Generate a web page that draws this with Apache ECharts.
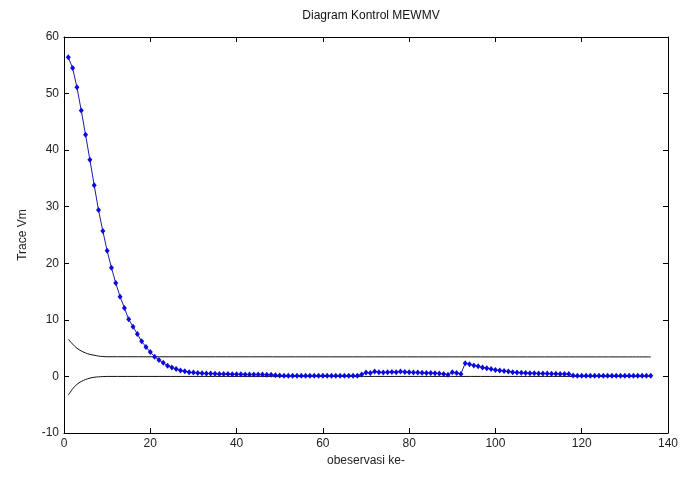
<!DOCTYPE html>
<html>
<head>
<meta charset="utf-8">
<script src="https://cdn.jsdelivr.net/npm/echarts@6/dist/echarts.min.js"></script>
<style>
  html, body { margin: 0; padding: 0; background: #fff; }
  #chart { width: 685px; height: 479px; }
</style>
</head>
<body>
<div id="chart"></div>
<script>
// Trace of the MEWMV statistic for each observation (obs 1..136)
const traceVm = [
  56.4, 54.5, 51.1, 47.0, 42.7, 38.3, 33.8, 29.4, 25.7, 22.2,
  19.2, 16.5, 14.1, 12.1, 10.1, 8.8, 7.5, 6.2, 5.2, 4.3,
  3.5, 2.9, 2.4, 1.9, 1.6, 1.3, 1.07, 0.9, 0.75, 0.68,
  0.62, 0.57, 0.53, 0.5, 0.47, 0.45, 0.43, 0.41, 0.4, 0.38,
  0.37, 0.36, 0.35, 0.34, 0.33, 0.32, 0.3, 0.28, 0.2, 0.15,
  0.12, 0.11, 0.12, 0.1, 0.11, 0.12, 0.1, 0.11, 0.1, 0.12,
  0.11, 0.1, 0.12, 0.11, 0.1, 0.12, 0.11, 0.13, 0.35, 0.7,
  0.6, 0.85, 0.75, 0.7, 0.75, 0.8, 0.75, 0.85, 0.8, 0.75,
  0.7, 0.7, 0.65, 0.6, 0.6, 0.55, 0.5, 0.45, 0.3, 0.75,
  0.6, 0.45, 2.35, 2.15, 1.95, 1.8, 1.6, 1.45, 1.3, 1.15,
  1.05, 0.95, 0.85, 0.75, 0.7, 0.65, 0.6, 0.55, 0.55, 0.5,
  0.5, 0.5, 0.48, 0.47, 0.45, 0.45, 0.42, 0.15, 0.1, 0.11,
  0.1, 0.1, 0.11, 0.1, 0.1, 0.11, 0.1, 0.1, 0.11, 0.1,
  0.1, 0.11, 0.1, 0.1, 0.1, 0.1
];

// Control limits: they settle after the first observations and stay flat to obs 136
const limitObs = [1, 2, 3, 4, 5, 6, 7, 8, 9, 10, 136];
const uclVals  = [6.6, 5.7, 5.0, 4.5, 4.15, 3.9, 3.75, 3.6, 3.52, 3.48, 3.45];
const lclVals  = [-3.3, -2.2, -1.4, -0.9, -0.55, -0.3, -0.15, -0.07, -0.03, 0, 0];

const xTicks = [0, 20, 40, 60, 80, 100, 120, 140];
const yTicks = [-10, 0, 10, 20, 30, 40, 50, 60];

const traceData = traceVm.map((v, i) => [i + 1, v]);
const uclData = limitObs.map((x, i) => [x, uclVals[i]]);
const lclData = limitObs.map((x, i) => [x, lclVals[i]]);

const font = 'Liberation Sans, Arial, sans-serif';
const axisLine = { show: true, onZero: false, lineStyle: { color: '#000', width: 1 } };
const tick = { show: true, inside: true, length: 5, lineStyle: { color: '#000' } };

const chart = echarts.init(document.getElementById('chart'));
chart.setOption({
  animation: false,
  backgroundColor: '#fff',
  title: {
    text: 'Diagram Kontrol MEWMV',
    left: 366, top: 5, textAlign: 'center',
    textStyle: { fontFamily: font, fontSize: 12, fontWeight: 'normal', color: '#111' }
  },
  grid: { left: 64, right: 17, top: 37, bottom: 46 },
  xAxis: [
    {
      type: 'value', min: xTicks[0], max: xTicks[xTicks.length - 1], interval: 20,
      axisLine, axisTick: tick, splitLine: { show: false },
      axisLabel: { fontFamily: font, fontSize: 12, color: '#222', margin: 5 },
      name: 'obeservasi ke-', nameLocation: 'middle', nameGap: 20,
      nameTextStyle: { fontFamily: font, fontSize: 12, color: '#222' }
    },
    {
      type: 'value', position: 'top', min: xTicks[0], max: xTicks[xTicks.length - 1], interval: 20,
      axisLine, axisTick: tick, axisLabel: { show: false }, splitLine: { show: false }
    }
  ],
  yAxis: [
    {
      type: 'value', min: yTicks[0], max: yTicks[yTicks.length - 1], interval: 10,
      axisLine, axisTick: tick, splitLine: { show: false },
      axisLabel: { fontFamily: font, fontSize: 12, color: '#222', margin: 5 },
      name: 'Trace Vm', nameLocation: 'middle', nameGap: 35, nameRotate: 90,
      nameTextStyle: { fontFamily: font, fontSize: 12, color: '#222' }
    },
    {
      type: 'value', position: 'right', min: yTicks[0], max: yTicks[yTicks.length - 1], interval: 10,
      axisLine, axisTick: tick, axisLabel: { show: false }, splitLine: { show: false }
    }
  ],
  series: [
    {
      name: 'UCL', type: 'line', data: uclData, showSymbol: false, smooth: 0.4,
      lineStyle: { color: '#111', width: 1 }, z: 2
    },
    {
      name: 'LCL', type: 'line', data: lclData, showSymbol: false, smooth: 0.4,
      lineStyle: { color: '#111', width: 1 }, z: 2
    },
    {
      name: 'Trace Vm', type: 'line', data: traceData,
      symbol: 'diamond', symbolSize: [5, 6], showAllSymbol: true,
      itemStyle: { color: '#0a0ae0' },
      lineStyle: { color: '#1a1aa8', width: 1 }, z: 3
    },
    // invisible carriers so the top and right frame axes are rendered
    { type: 'line', xAxisIndex: 1, yAxisIndex: 1, data: [], silent: true }
  ]
});
</script>
</body>
</html>
